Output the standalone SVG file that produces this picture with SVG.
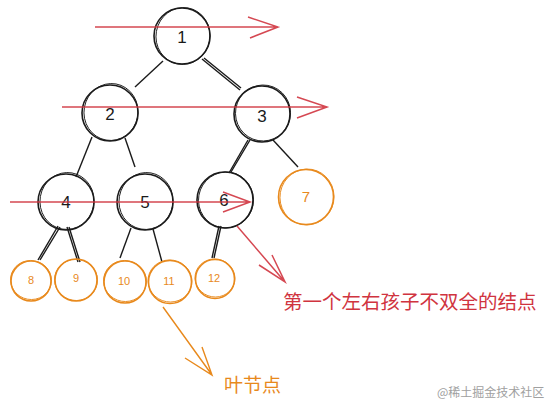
<svg xmlns="http://www.w3.org/2000/svg" width="552" height="410" viewBox="0 0 552 410">
<style>
.n circle{fill:none;stroke:#1a1a1a;stroke-width:1.6}
.n ellipse{fill:none;stroke:#1a1a1a;stroke-width:0.9}
.o circle{fill:none;stroke:#e8891c;stroke-width:1.6}
.o ellipse{fill:none;stroke:#e8891c;stroke-width:0.9}
.t{font-family:"Liberation Sans",sans-serif;font-size:17px;fill:#1a1a1a;text-anchor:middle}
.ts{font-family:"Liberation Sans",sans-serif;font-size:11px;fill:#e8891c;text-anchor:middle}
.tb{font-family:"Liberation Sans",sans-serif;font-size:15px;fill:#e8891c;text-anchor:middle}
.e line{stroke:#1a1a1a;stroke-width:1.4}
.r{stroke:#d0343f;stroke-width:1.5;fill:none;opacity:0.9}
.og{stroke:#e8891c;stroke-width:1.4;fill:none}
</style>
<rect width="552" height="410" fill="#ffffff"/>
<g id="connectors" class="e">
<line x1="163" y1="61" x2="135" y2="87"/>
<line x1="202" y1="59" x2="240" y2="90"/>
<line x1="204" y1="58" x2="241" y2="88"/>
<line x1="92" y1="137" x2="76" y2="177"/>
<line x1="125" y1="138" x2="135" y2="167"/>
<line x1="248" y1="140" x2="229" y2="173"/>
<line x1="250" y1="140" x2="231" y2="172"/>
<line x1="273" y1="140" x2="298" y2="167"/>
<line x1="58" y1="226" x2="38" y2="260"/>
<line x1="60" y1="227" x2="40" y2="260"/>
<line x1="67" y1="227" x2="78" y2="262"/>
<line x1="69" y1="227" x2="80" y2="262"/>
<line x1="131" y1="228" x2="120" y2="258"/>
<line x1="153" y1="229" x2="162" y2="262"/>
<line x1="219" y1="226" x2="212" y2="258"/>
<line x1="221" y1="226" x2="214" y2="258"/>
</g>
<g id="n1" class="n"><circle cx="182" cy="36" r="28"/><ellipse cx="183" cy="36" rx="27" ry="28.5" transform="rotate(10 183 36)"/><text class="t" x="182" y="43">1</text></g>
<g id="n2" class="n"><circle cx="110" cy="113" r="28"/><ellipse cx="111" cy="112" rx="27" ry="28.5" transform="rotate(10 111 112)"/><text class="t" x="110" y="120">2</text></g>
<g id="n3" class="n"><circle cx="262" cy="114" r="28"/><ellipse cx="263" cy="113" rx="27.5" ry="28" transform="rotate(10 263 113)"/><text class="t" x="262" y="122">3</text></g>
<g id="n4" class="n"><circle cx="66" cy="202" r="28"/><ellipse cx="67" cy="201" rx="27" ry="28.5" transform="rotate(10 67 201)"/><text class="t" x="66" y="208">4</text></g>
<g id="n5" class="n"><circle cx="145" cy="202" r="28"/><ellipse cx="146" cy="201" rx="27" ry="28.5" transform="rotate(10 146 201)"/><text class="t" x="145" y="208">5</text></g>
<g id="n6" class="n"><circle cx="225" cy="200" r="28"/><ellipse cx="226" cy="200" rx="27.5" ry="28" transform="rotate(10 226 200)"/><text class="t" x="224" y="206">6</text></g>
<g id="n7" class="o"><circle cx="306" cy="197" r="27.5"/><ellipse cx="307" cy="197" rx="27" ry="28" transform="rotate(10 307 197)"/><text class="tb" x="306" y="202">7</text></g>
<g id="n8" class="o"><circle cx="31" cy="281" r="20"/><ellipse cx="31" cy="280" rx="20.5" ry="19.5" transform="rotate(10 31 280)"/><text class="ts" x="31" y="284">8</text></g>
<g id="n9" class="o"><circle cx="76" cy="280" r="21"/><ellipse cx="76" cy="280" rx="21.5" ry="20.5" transform="rotate(10 76 280)"/><text class="ts" x="76" y="282">9</text></g>
<g id="n10" class="o"><circle cx="125" cy="282" r="21"/><ellipse cx="125" cy="281" rx="21.5" ry="20.5" transform="rotate(10 125 281)"/><text class="ts" x="124" y="285">10</text></g>
<g id="n11" class="o"><circle cx="170" cy="282" r="21.5"/><ellipse cx="170" cy="281" rx="22" ry="21" transform="rotate(10 170 281)"/><text class="ts" x="169" y="285">11</text></g>
<g id="n12" class="o"><circle cx="215" cy="279" r="19.5"/><ellipse cx="215" cy="278" rx="20" ry="19" transform="rotate(10 215 278)"/><text class="ts" x="214" y="282">12</text></g>
<g id="arrows">
<path class="r" d="M95 27 L278 27 M248 17 L278 27 L250 38"/>
<path class="r" d="M62 107 L327 107 M297 97 L327 107 L297 118"/>
<path class="r" d="M10 202 L250 202 M223 192 L250 202 L223 212"/>
<path class="r" d="M237 226 L285 282 M272 255 L285 282 L259 265"/>
<path class="og" d="M163 307 L212 375 M185 358 L212 375 L202 347"/>
</g>
<text x="283" y="309" style="font-family:'Noto Sans CJK SC',sans-serif;font-size:19.5px;fill:#d0343f">第一个左右孩子不双全的结点</text>
<text x="224" y="392" style="font-family:'Noto Sans CJK SC',sans-serif;font-size:19px;fill:#e8891c">叶节点</text>
<text x="437" y="397" style="font-family:'Noto Sans CJK SC',sans-serif;font-size:12px;fill:#a0a0a0">@稀土掘金技术社区</text>
</svg>
